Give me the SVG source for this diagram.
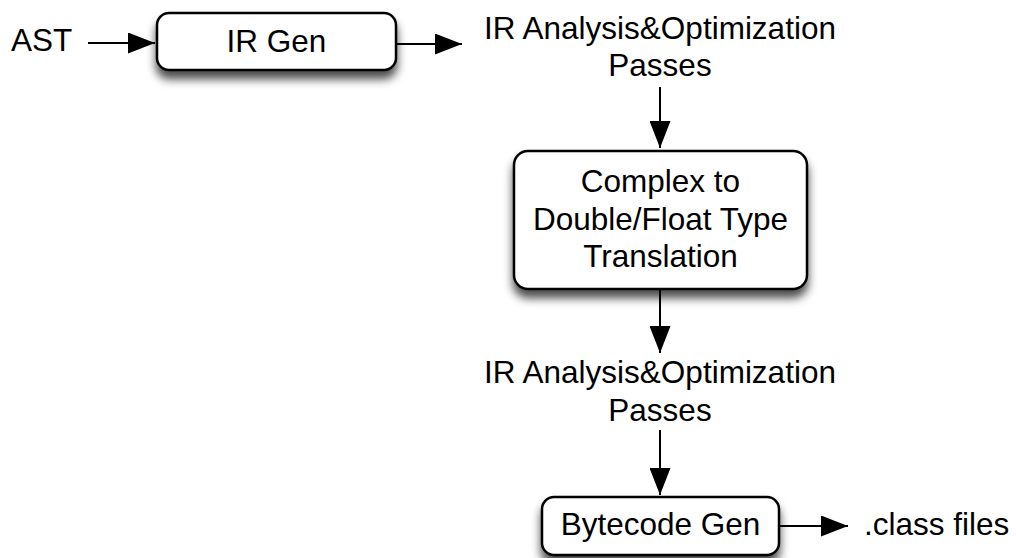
<svg xmlns="http://www.w3.org/2000/svg" width="1016" height="558" viewBox="0 0 1016 558">
<style>
  .box { fill: #ffffff; stroke: #000000; stroke-width: 2.5; filter: url(#shadow); }
  .t { font-family: "Liberation Sans", Arial, sans-serif; font-size: 31.5px; fill: #000000; text-anchor: middle; }
  .tl { font-family: "Liberation Sans", Arial, sans-serif; font-size: 31.5px; fill: #000000; }
  .edge { stroke: #000000; stroke-width: 2; fill: none; marker-end: url(#arrow); }
</style>
<defs>
  <filter id="shadow" x="-20%" y="-20%" width="140%" height="170%">
    <feDropShadow dx="0" dy="8" stdDeviation="5" flood-color="#000000" flood-opacity="0.7"/>
  </filter>
  <marker id="arrow" markerUnits="userSpaceOnUse" markerWidth="27" markerHeight="21" refX="27" refY="10.5" orient="auto">
    <path d="M0,0 L27,10.5 L0,21 z" fill="#000000"/>
  </marker>
</defs>
<rect width="1016" height="558" fill="#ffffff"/>
<g id="connectors">
  <line class="edge" x1="88" y1="43" x2="155" y2="43"/>
  <line class="edge" x1="396" y1="44" x2="462" y2="44"/>
  <line class="edge" x1="660" y1="87" x2="660" y2="148"/>
  <line class="edge" x1="660" y1="290" x2="660" y2="353"/>
  <line class="edge" x1="660" y1="430" x2="660" y2="495"/>
  <line class="edge" x1="780" y1="526" x2="848" y2="526"/>
</g>
<g id="ast">
  <text class="tl" x="11" y="51">AST</text>
</g>
<g id="irgen">
  <rect class="box" x="157" y="13" width="239" height="57" rx="12"/>
  <text class="t" x="276.5" y="52">IR Gen</text>
</g>
<g id="passes1">
  <text class="t" x="660" y="39">IR Analysis&amp;Optimization</text>
  <text class="t" x="660" y="76">Passes</text>
</g>
<g id="complex">
  <rect class="box" x="514" y="151" width="293" height="138" rx="14"/>
  <text class="t" x="660.5" y="192">Complex to</text>
  <text class="t" x="660.5" y="230">Double/Float Type</text>
  <text class="t" x="660.5" y="267">Translation</text>
</g>
<g id="passes2">
  <text class="t" x="660" y="383">IR Analysis&amp;Optimization</text>
  <text class="t" x="660" y="421">Passes</text>
</g>
<g id="bytecode">
  <rect class="box" x="542" y="497" width="237" height="58" rx="12"/>
  <text class="t" x="660.5" y="535">Bytecode Gen</text>
</g>
<g id="classfiles">
  <text class="tl" x="864" y="535">.class files</text>
</g>
</svg>
